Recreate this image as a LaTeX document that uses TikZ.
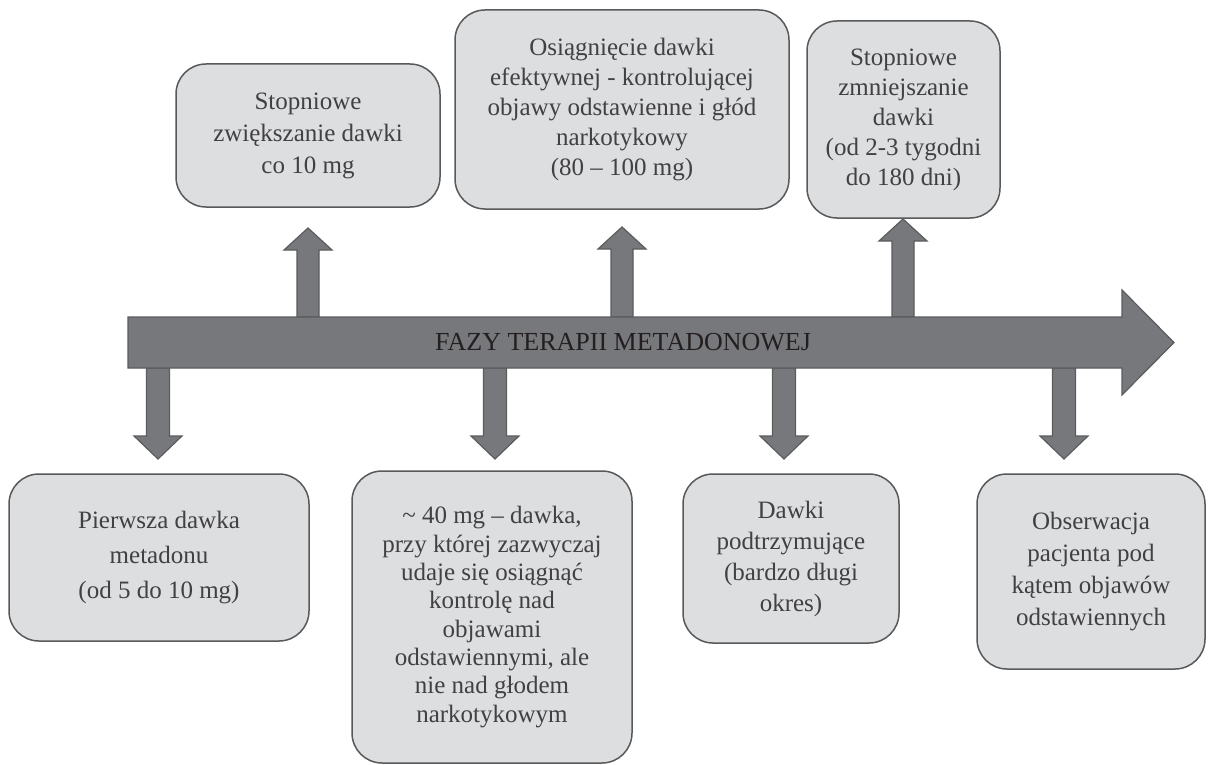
\documentclass[tikz,border=0pt]{standalone}
\usepackage{fontspec}
\setmainfont{Liberation Serif}
\definecolor{boxfill}{HTML}{DDDEE0}
\definecolor{boxline}{HTML}{58595B}
\definecolor{arrfill}{HTML}{77787B}
\definecolor{arrline}{HTML}{5B5C5E}
\definecolor{txt}{HTML}{414042}
\definecolor{axistxt}{HTML}{231F20}
\tikzset{
  phase/.style={draw=boxline, line width=1.5pt, fill=boxfill, rounded corners=30pt,
    align=center, inner sep=0pt, text=txt},
  blk/.style={draw=arrline, line width=1.2pt, fill=arrfill, line join=miter},
}
\newcommand\fsz[1]{\fontsize{25}{#1}\selectfont}
% up block arrow: centre x, tip y, head base y, bottom y
\newcommand\blockup[4]{%
  \draw[blk] ({#1-11},#4) -- ({#1-11},#3) -- ({#1-24},#3) -- (#1,#2) --
    ({#1+24},#3) -- ({#1+11},#3) -- ({#1+11},#4) -- cycle;}
% down block arrow: centre x, top y, head base y, tip y
\newcommand\blockdown[4]{%
  \draw[blk] ({#1-11.5},#2) -- ({#1-11.5},#3) -- ({#1-24},#3) -- (#1,#4) --
    ({#1+24},#3) -- ({#1+11.5},#3) -- ({#1+11.5},#2) -- cycle;}
\begin{document}
\begin{tikzpicture}[x=1pt,y=-1pt]
\useasboundingbox (0,0) rectangle (1208,765);
\fill[white] (0,0) rectangle (1208,765);

% boxes above the axis
\node[phase, font=\fsz{32}, minimum width=264pt, minimum height=143pt] (b1) at (308,135.5)
  {Stopniowe\\zwiększanie dawki\\co 10 mg};
\node[phase, font=\fsz{30}, minimum width=334pt, minimum height=199pt] (b2) at (622,109.5)
  {Osiągnięcie dawki\\efektywnej - kontrolującej\\objawy odstawienne i głód\\narkotykowy\\(80 – 100 mg)};
\node[phase, font=\fsz{30}, minimum width=193pt, minimum height=197pt] (b3) at (903.5,119.5)
  {Stopniowe\\zmniejszanie\\dawki\\(od 2-3 tygodni\\do 180 dni)};

% boxes below the axis
\node[phase, font=\fsz{35}, minimum width=300pt, minimum height=167pt] (b4) at (159,557.5)
  {Pierwsza dawka\\metadonu\\(od 5 do 10 mg)};
\node[phase, font=\fsz{28.3}, minimum width=280pt, minimum height=292pt] (b5) at (492,617)
  {\textasciitilde{} 40 mg – dawka,\\przy której zazwyczaj\\udaje się osiągnąć\\kontrolę nad\\objawami\\odstawiennymi, ale\\nie nad głodem\\narkotykowym};
\node[phase, font=\fsz{31}, minimum width=216pt, minimum height=169pt] (b6) at (791,558.5)
  {Dawki\\podtrzymujące\\(bardzo długi\\okres)};
\node[phase, font=\fsz{31.7}, minimum width=228pt, minimum height=195pt] (b7) at (1091,571.5)
  {Obserwacja\\pacjenta pod\\kątem objawów\\odstawiennych};

% small block arrows
\blockup{308}{228}{250}{317}
\blockup{622}{227}{249}{317}
\blockup{903}{219}{241}{317}
\blockdown{158}{368}{436}{459}
\blockdown{495}{368}{436}{459}
\blockdown{784}{368}{436}{459}
\blockdown{1064}{368}{436}{459}

% main axis arrow
\draw[blk] (128,317) -- (1122,317) -- (1122,290) -- (1174,342.5) -- (1122,395)
  -- (1122,368) -- (128,368) -- cycle;
\node[font=\fontsize{26}{30}\selectfont, text=axistxt, inner sep=0pt] (axis) at (623,342.5)
  {FAZY TERAPII METADONOWEJ};
\end{tikzpicture}
\end{document}
